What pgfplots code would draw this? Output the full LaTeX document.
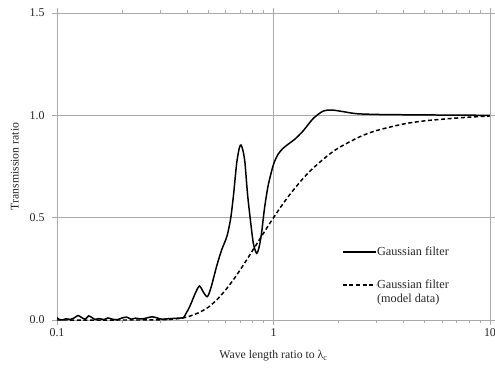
\documentclass[border=0pt]{standalone}
\usepackage{fontspec}
\setmainfont{Liberation Serif}
\usepackage{pgfplots}
\pgfplotsset{compat=1.18}
\definecolor{gridgray}{RGB}{170,170,170}
\begin{document}
\begin{tikzpicture}
\useasboundingbox (-57bp,-49bp) rectangle (438bp,320bp);
\begin{axis}[
  at={(0,0)}, anchor=south west,
  xmode=log,
  width=433bp, height=307bp, scale only axis,
  xmin=0.1, xmax=10, ymin=0, ymax=1.5,
  xtick={0.1,1,10}, xticklabels={0.1,1,10},
  ytick={0,0.5,1,1.5},
  yticklabel style={xshift=-4bp, /pgf/number format/.cd,fixed,fixed zerofill,precision=1},
  /pgf/number format/assume math mode=true,
  minor xtick={}, minor ytick={},
  grid=major,
  grid style={gridgray, line width=0.8pt},
  axis line style={gridgray, line width=0.8pt},
  tick style={gridgray, line width=0.8pt},
  tick align=outside,
  major tick length=5bp,
  ticklabel style={font=\fontsize{12}{14}\selectfont, text=black!85},
  xticklabel style={yshift=-0.5bp},
  xlabel={Wave length ratio to λ\textsubscript{c}},
  ylabel={Transmission ratio},
  label style={font=\fontsize{11.8}{14}\selectfont, text=black!85},
  xlabel style={yshift=-6bp},
  ylabel style={yshift=4bp},
  legend style={draw=none, fill=none, at={(0.651,0.252)}, anchor=north west,
    font=\fontsize{12.3}{14}\selectfont, text=black!85,
    row sep=19bp, nodes={inner xsep=0.5bp}},
  legend cell align=left,
  legend image code/.code={\draw[#1] (0bp,0bp) -- (33bp,0bp);},
]
\addplot[black, line width=1.5pt, smooth, tension=0.45] coordinates {
(0.1,0.012) (0.102,0.004) (0.106,0.0) (0.11,0.006) (0.115,0.003) (0.12,0.01)
(0.125,0.022) (0.13,0.012) (0.135,0.004) (0.14,0.02) (0.145,0.012) (0.15,0.003)
(0.157,0.007) (0.165,0.002) (0.172,0.01) (0.18,0.004) (0.19,0.002) (0.2,0.01)
(0.21,0.014) (0.22,0.004) (0.23,0.009) (0.245,0.005) (0.26,0.01) (0.275,0.016)
(0.29,0.01) (0.305,0.004) (0.325,0.006) (0.35,0.008) (0.375,0.01) (0.385,0.013)
(0.41,0.065) (0.435,0.13) (0.455,0.166) (0.475,0.135) (0.495,0.114) (0.515,0.16)
(0.547,0.265) (0.576,0.342) (0.61,0.41) (0.635,0.5) (0.655,0.62) (0.676,0.766)
(0.695,0.84) (0.708,0.855) (0.722,0.83) (0.738,0.77) (0.758,0.62) (0.779,0.505)
(0.807,0.375) (0.836,0.326) (0.86,0.36) (0.882,0.43) (0.91,0.55) (0.946,0.66)
(1.0,0.76) (1.05,0.81) (1.11,0.84) (1.19,0.865) (1.26,0.885) (1.373,0.925)
(1.527,0.985) (1.698,1.021) (1.857,1.026) (2.1,1.018) (2.42,1.008) (3.1,1.004)
(5,1.002) (10,1.0)
};
\addlegendentry{Gaussian filter}
\addplot[black, line width=1.5pt, dash pattern=on 4bp off 2.6bp, smooth, tension=0.5] coordinates {
(0.1,0.0) (0.2,0.0) (0.28,0.0003) (0.33,0.003) (0.37,0.008) (0.4,0.015) (0.45,0.035) (0.5,0.0625)
(0.55,0.101) (0.6,0.146) (0.65,0.194) (0.7,0.243) (0.75,0.292) (0.8,0.339)
(0.85,0.383) (0.9,0.425) (1.0,0.5) (1.1,0.564) (1.2,0.618) (1.35,0.684)
(1.5,0.735) (1.75,0.797) (2.0,0.841) (2.5,0.895) (3.0,0.926) (4.0,0.958)
(5,0.973) (6.5,0.984) (8,0.991) (10,0.997)
};
\addlegendentry{\smash{\makebox[0pt][l]{\raisebox{-14bp}{(model data)}}}Gaussian filter}
\end{axis}
\end{tikzpicture}
\end{document}
